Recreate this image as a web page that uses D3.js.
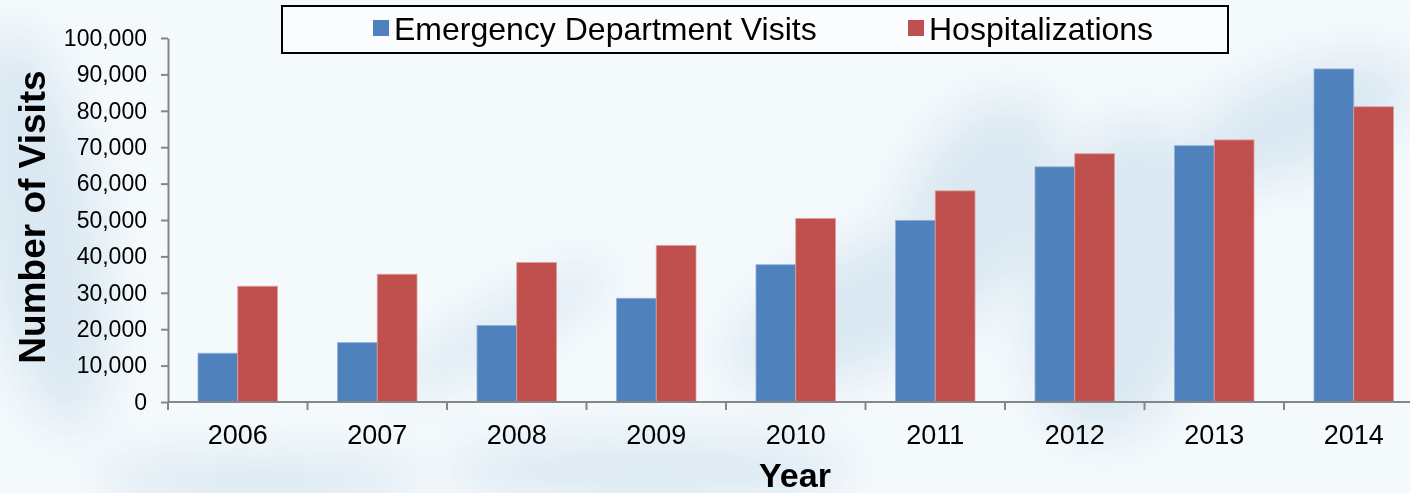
<!DOCTYPE html>
<html lang="en">
<head>
<meta charset="utf-8">
<title>Visits</title>
<script type="text/javascript" src="https://d3js.org/d3.v7.min.js"></script>
<style>
body { margin: 0; background: #f3f8fc; }
svg { display: block; font-family: "Liberation Sans", Arial, sans-serif; }
.axis path, .axis line { stroke: #868686; stroke-width: 2; }
</style>
</head>
<body>
<div id="chart"></div>
<script type="text/javascript">

// data
var years = ["2006", "2007", "2008", "2009", "2010", "2011", "2012", "2013", "2014"];
var edVisits = [13400, 16300, 21000, 28500, 37700, 49900, 64600, 70400, 91500];
var hospitalizations = [31800, 35100, 38300, 43000, 50400, 58000, 68200, 72000, 81100];
var seriesNames = ["Emergency Department Visits", "Hospitalizations"];
var seriesColors = ["#4f81bd", "#c0504d"];
var yTicks = [0, 10000, 20000, 30000, 40000, 50000, 60000, 70000, 80000, 90000, 100000];

var w = 1410, h = 493;
var svg = d3.select("#chart").append("svg")
  .attr("width", w)
  .attr("height", h);

// soft background, just a hint of the leaf photo behind the chart
var defs = svg.append("defs");
defs.append("filter").attr("id", "blur")
  .attr("x", "-50%").attr("y", "-50%").attr("width", "200%").attr("height", "200%")
  .append("feGaussianBlur").attr("stdDeviation", 22);
svg.append("rect").attr("width", w).attr("height", h).attr("fill", "#f4f9fc");
var blobs = svg.append("g").attr("filter", "url(#blur)").attr("opacity", 0.55);
[[40, 230, 60, 200, -10], [880, 300, 160, 60, -25], [1120, 280, 90, 160, 10],
 [1300, 120, 120, 50, -20], [650, 470, 200, 30, 0], [260, 480, 160, 25, 0],
 [980, 200, 70, 110, 30], [500, 330, 120, 22, -30]].forEach(function(b) {
  blobs.append("ellipse")
    .attr("cx", b[0]).attr("cy", b[1]).attr("rx", b[2]).attr("ry", b[3])
    .attr("transform", "rotate(" + b[4] + "," + b[0] + "," + b[1] + ")")
    .attr("fill", "#c6dbea");
});

var x0 = d3.scaleBand()
  .domain(years)
  .range([168, 168 + 139.5 * years.length])
  .paddingInner(0).paddingOuter(0);

var x1 = d3.scaleBand()
  .domain([0, 1])
  .range([30, 139.5 - 30]);

var y = d3.scaleLinear()
  .domain([0, 100000])
  .range([402, 38]);

// bars
var groups = svg.append("g").selectAll("g")
  .data(years)
  .enter().append("g")
  .attr("transform", function(d) { return "translate(" + x0(d) + ",0)"; });

groups.selectAll("rect")
  .data(function(d, i) { return [edVisits[i], hospitalizations[i]]; })
  .enter().append("rect")
  .attr("x", function(d, j) { return x1(j); })
  .attr("y", function(d) { return y(d); })
  .attr("width", x1.bandwidth())
  .attr("height", function(d) { return y(0) - y(d); })
  .attr("fill", function(d, j) { return seriesColors[j]; })
  .attr("stroke", function(d, j) { return j === 0 ? "#8fb0d8" : "#e09a98"; })
  .attr("stroke-width", 0.8);

// y axis
var yAxis = svg.append("g")
  .attr("class", "axis")
  .attr("transform", "translate(168,0)")
  .call(d3.axisLeft(y).tickValues(yTicks).tickSize(7).tickPadding(14)
    .tickFormat(d3.format(",")).tickSizeOuter(0));
yAxis.selectAll("text")
  .attr("font-size", 23)
  .attr("fill", "#000")
  .attr("font-family", "Liberation Sans, Arial, sans-serif");

// x axis, ticks sit between the year groups
var xAxis = svg.append("g")
  .attr("class", "axis")
  .attr("transform", "translate(0,402)");
xAxis.append("line")
  .attr("x1", 168).attr("x2", w)
  .attr("stroke", "#868686").attr("stroke-width", 2.5);
xAxis.selectAll(".sep")
  .data(years)
  .enter().append("line")
  .attr("x1", function(d) { return x0(d); })
  .attr("x2", function(d) { return x0(d); })
  .attr("y1", 0).attr("y2", 8)
  .attr("stroke", "#868686").attr("stroke-width", 2);
xAxis.selectAll(".yr")
  .data(years)
  .enter().append("text")
  .attr("x", function(d) { return x0(d) + x0.bandwidth() / 2; })
  .attr("y", 42)
  .attr("text-anchor", "middle")
  .attr("font-size", 27)
  .text(function(d) { return d; });

// axis titles
svg.append("text")
  .attr("x", 795).attr("y", 487)
  .attr("text-anchor", "middle")
  .attr("font-size", 34).attr("font-weight", "bold")
  .text("Year");

svg.append("text")
  .attr("transform", "translate(45,217) rotate(-90)")
  .attr("text-anchor", "middle")
  .attr("font-size", 37).attr("font-weight", "bold")
  .text("Number of Visits");

// legend
var legend = svg.append("g");
legend.append("rect")
  .attr("x", 282).attr("y", 6)
  .attr("width", 946).attr("height", 47)
  .attr("fill", "#fff").attr("fill-opacity", 0.55)
  .attr("stroke", "#000").attr("stroke-width", 2);

var legendX = [373, 908];
seriesNames.forEach(function(name, i) {
  legend.append("rect")
    .attr("x", legendX[i]).attr("y", 20)
    .attr("width", 16).attr("height", 16)
    .attr("fill", seriesColors[i]);
  legend.append("text")
    .attr("x", legendX[i] + 21).attr("y", 40)
    .attr("font-size", 32)
    .text(name);
});

</script>
</body>
</html>
